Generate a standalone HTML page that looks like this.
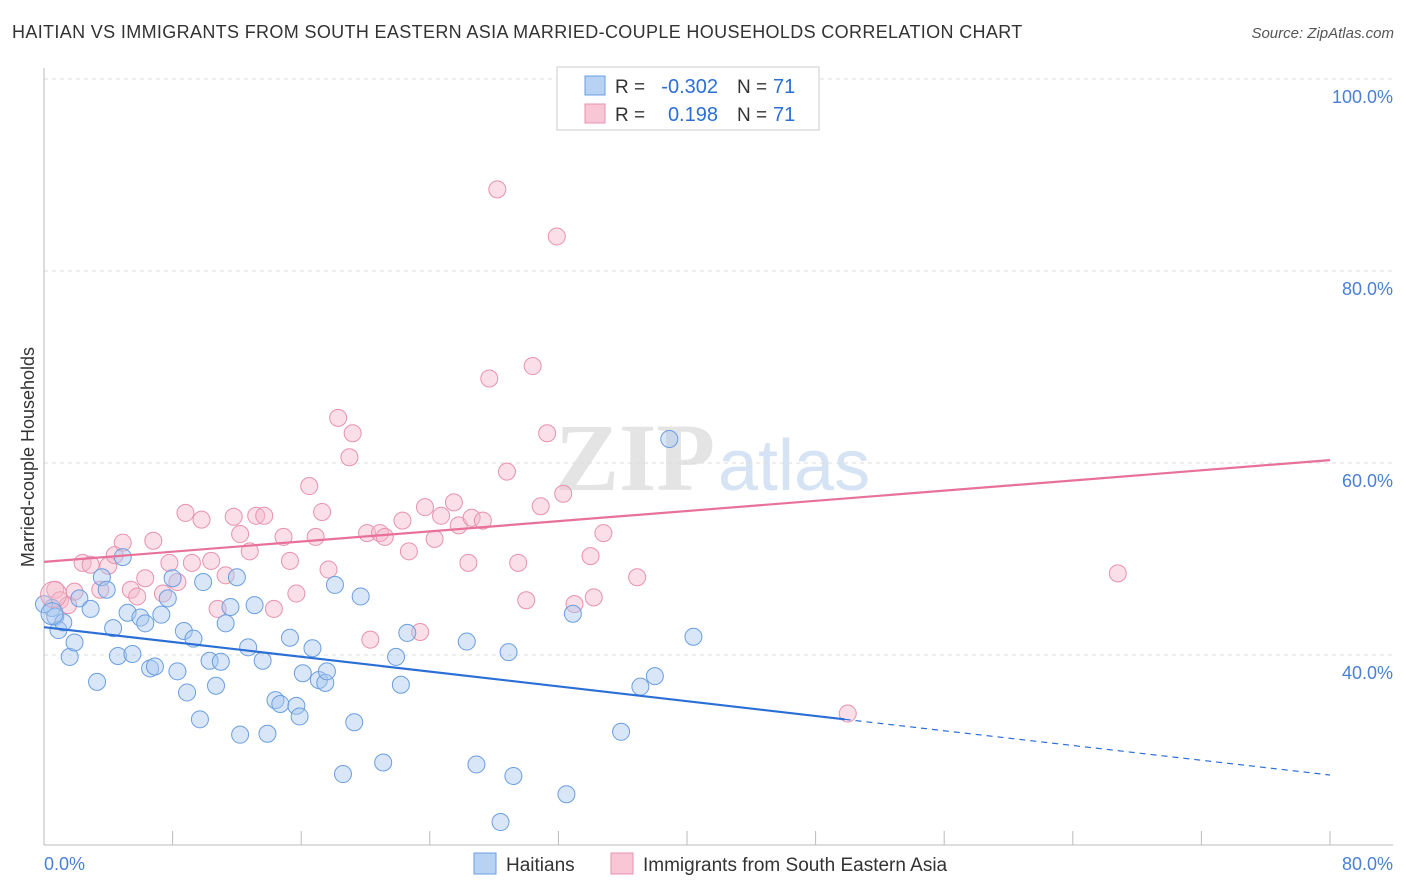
<!DOCTYPE html>
<html><head><meta charset="utf-8">
<style>
body{margin:0;background:#fff;font-family:"Liberation Sans",sans-serif;}
#wrap{position:relative;width:1406px;height:892px;overflow:hidden;}
.title{position:absolute;left:12px;top:22px;font-size:18px;color:#333;letter-spacing:0.35px;}
.source{position:absolute;right:12px;top:25px;font-size:15px;color:#555;font-style:italic;}
</style></head>
<body>
<div id="wrap">
<div class="title">HAITIAN VS IMMIGRANTS FROM SOUTH EASTERN ASIA MARRIED-COUPLE HOUSEHOLDS CORRELATION CHART</div>
<div class="source">Source: ZipAtlas.com</div>
<svg id="chart" width="1406" height="892" style="position:absolute;left:0;top:0"></svg>
</div>
<script>
const blueX=[0.5,0.7,0.9,1.2,1.6,1.9,2.2,2.9,3.3,3.6,3.9,4.3,4.6,4.9,5.2,5.5,6.0,6.3,6.6,6.9,7.3,7.7,8.0,8.3,8.7,8.9,9.3,9.7,9.9,10.3,10.7,11.0,11.3,11.6,12.0,12.2,12.7,13.1,13.6,13.9,14.4,14.7,15.3,15.7,15.9,16.1,16.7,17.1,17.5,17.6,18.1,18.6,19.3,19.7,21.1,21.9,22.2,22.6,26.3,26.9,28.4,28.9,29.2,32.5,32.9,35.9,37.1,38.0,38.9,40.4,0.0];
const blueY=[44.9,44.0,42.6,43.4,39.8,41.3,45.9,44.8,37.2,48.1,46.8,42.8,39.9,50.2,44.4,40.1,43.9,43.3,38.6,38.8,44.2,45.9,48.0,38.3,42.5,36.1,41.7,33.3,47.6,39.4,36.8,39.3,43.3,45.0,48.1,31.7,40.8,45.2,39.4,31.8,35.3,34.9,41.8,34.7,33.6,38.1,40.7,37.4,37.1,38.3,47.3,27.6,33.0,46.1,28.8,39.8,36.9,42.3,41.4,28.6,22.6,40.3,27.4,25.5,44.3,32.0,36.7,37.8,62.5,41.9,45.3];
const pinkX=[0.7,1.0,1.5,1.9,2.4,2.9,3.5,4.0,4.4,4.9,5.4,5.8,6.3,6.8,7.4,7.8,8.3,8.8,9.2,9.8,10.4,10.8,11.3,11.8,12.2,12.8,13.2,13.7,14.3,14.9,15.3,15.7,16.5,16.9,17.3,17.7,18.3,19.2,19.0,20.3,20.1,20.9,21.2,22.3,22.7,23.4,23.7,24.3,24.7,25.5,25.8,26.4,26.6,27.3,27.7,28.2,28.8,29.5,30.0,30.4,30.9,31.3,31.9,32.3,33.0,34.0,34.2,34.8,36.9,50.0,66.8];
const pinkY=[46.8,45.7,45.2,46.6,49.6,49.4,46.8,49.3,50.4,51.7,46.8,46.1,48.0,51.9,46.4,49.6,47.6,54.8,49.6,54.1,49.8,44.8,48.3,54.4,52.6,50.8,54.5,54.5,44.8,52.3,49.8,46.4,57.6,52.3,54.9,48.9,64.7,63.1,60.6,41.6,52.7,52.7,52.3,54.0,50.8,42.4,55.4,52.1,54.5,55.9,53.5,49.6,54.3,54.0,68.8,88.5,59.1,49.6,45.7,70.1,55.5,63.1,83.6,56.8,45.3,50.3,46.0,52.7,48.1,33.9,48.5];
const yTicks=[40,60,80,100];
const yTickLabels=["40.0%","60.0%","80.0%","100.0%"];
const blueLine=[[0,42.9],[49.8,33.3],[80,27.5]];
const pinkLine=[[0,49.7],[80,60.3]];

const NS="http://www.w3.org/2000/svg";
const svg=document.getElementById('chart');
const X0=44,X1=1330,Y100=79,PXY=9.6;
const xs=v=>X0+(v/80)*(X1-X0);
const ys=v=>Y100+(100-v)*PXY;
function mk(tag,attrs,parent){const e=document.createElementNS(NS,tag);for(const k in attrs)e.setAttribute(k,attrs[k]);(parent||svg).appendChild(e);return e;}

let wm=mk('text',{x:555,y:490,'font-size':96,fill:'#e4e4e4','font-family':'Liberation Serif, serif','font-weight':'bold'});


wm.textContent='ZIP';
let wm2=mk('text',{x:718,y:490,'font-size':72,fill:'#d5e3f5','font-family':'Liberation Sans, sans-serif'});


wm2.textContent='atlas';

yTicks.forEach((t,i)=>{
 let g=mk('line',{x1:X0,x2:1393,y1:ys(t),y2:ys(t),stroke:'#dcdcdc','stroke-dasharray':'4,4'});
 
 
 let l=mk('text',{x:1393,y:ys(t)+24,'text-anchor':'end','font-size':18,fill:'#4a7fd4'});
 
 
 l.textContent=yTickLabels[i];
});
let ax=mk('line',{x1:X0,x2:X0,y1:68,y2:845,stroke:'#bbb'});


let bx=mk('line',{x1:X0,x2:1393,y1:845,y2:845,stroke:'#bbb'});


for(let i=0;i<=10;i++){
 let t=mk('line',{x1:xs(i*8),x2:xs(i*8),y1:831,y2:845,stroke:'#bbb'});
 
 
}
let xl0=mk('text',{x:44,y:870,'font-size':18,fill:'#4a7fd4'});


xl0.textContent='0.0%';
let xl1=mk('text',{x:1393,y:870,'font-size':18,fill:'#4a7fd4','text-anchor':'end'});


xl1.textContent='80.0%';
let yt=mk('text',{x:34,y:457,'font-size':18,fill:'#333','text-anchor':'middle',transform:'rotate(-90 34 457)'});


yt.textContent='Married-couple Households';

function pts(X,Y,fill,stroke,name){
 X.forEach((x,i)=>{
  let c=mk('circle',{cx:xs(x),cy:ys(Y[i]),r:8.5,fill:fill,'fill-opacity':0.45,stroke:stroke,'stroke-width':1});
  
  
 });
}
pts(pinkX,pinkY,'#f5b8cb','#e892ad','sea-immigrants');
pts(blueX,blueY,'#a9c8f0','#6a9ee0','haitian');
let bp=mk('circle',{cx:xs(0.6),cy:ys(46.3),r:13,fill:'#f5b8cb','fill-opacity':0.4,stroke:'#e892ad'});


let bb=mk('circle',{cx:xs(0.5),cy:ys(44.3),r:11,fill:'#a9c8f0','fill-opacity':0.4,stroke:'#6a9ee0'});



let tl=mk('line',{x1:xs(blueLine[0][0]),y1:ys(blueLine[0][1]),x2:xs(blueLine[1][0]),y2:ys(blueLine[1][1]),stroke:'#2b6fd6','stroke-width':2.2});


let td=mk('line',{x1:xs(blueLine[1][0]),y1:ys(blueLine[1][1]),x2:xs(blueLine[2][0]),y2:ys(blueLine[2][1]),stroke:'#2b6fd6','stroke-width':1.2,'stroke-dasharray':'6,5'});


let pl=mk('line',{x1:xs(pinkLine[0][0]),y1:ys(pinkLine[0][1]),x2:xs(pinkLine[1][0]),y2:ys(pinkLine[1][1]),stroke:'#e8719a','stroke-width':2.2});



let lg=mk('g',{});


mk('rect',{x:557,y:67,width:262,height:63,fill:'#fff',stroke:'#ccc'},lg);
mk('rect',{x:585,y:76,width:20,height:19,fill:'#b8d2f3',stroke:'#6a9ee0'},lg);
mk('rect',{x:585,y:104,width:20,height:19,fill:'#f8c6d5',stroke:'#e892ad'},lg);
const rows=[[93,'-0.302'],[121,'0.198']];
rows.forEach((r,i)=>{
 let a=mk('text',{x:615,y:r[0],'font-size':19,fill:'#333'},lg);a.textContent='R = ';
 let b=mk('text',{x:718,y:r[0],'font-size':20,fill:'#2b6fd6','text-anchor':'end'},lg);b.textContent=r[1];
 let c=mk('text',{x:737,y:r[0],'font-size':19,fill:'#333'},lg);c.textContent='N = ';
 let d=mk('text',{x:773,y:r[0],'font-size':20,fill:'#2b6fd6'},lg);d.textContent='71';
});

let bl=mk('g',{});


mk('rect',{x:474,y:853,width:22,height:21,fill:'#b8d2f3',stroke:'#6a9ee0'},bl);
let t1=mk('text',{x:506,y:871,'font-size':19,fill:'#333'},bl);t1.textContent='Haitians';
mk('rect',{x:611,y:853,width:22,height:21,fill:'#f8c6d5',stroke:'#e892ad'},bl);
let t2=mk('text',{x:643,y:871,'font-size':19,fill:'#333'},bl);t2.textContent='Immigrants from South Eastern Asia';
</script>
</body></html>
